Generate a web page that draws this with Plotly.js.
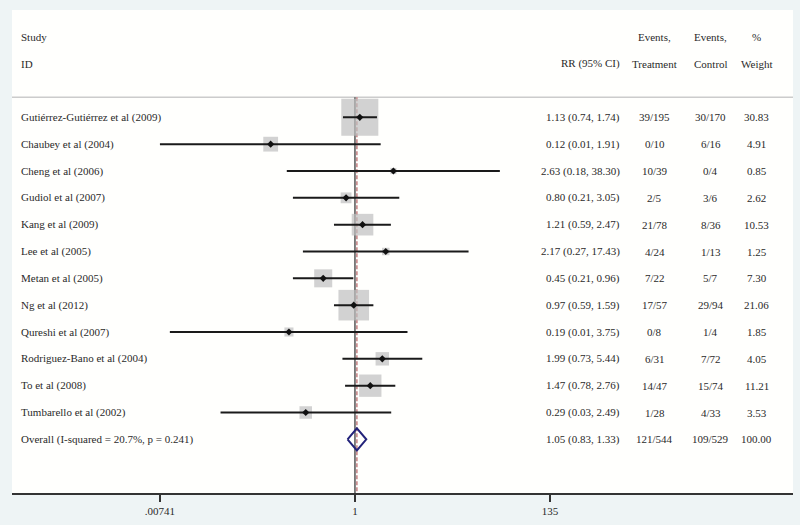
<!DOCTYPE html>
<html>
<head>
<meta charset="utf-8">
<script src="https://cdn.plot.ly/plotly-3.0.1.min.js"></script>
<style>html,body{margin:0;padding:0;background:#eef4f5;}#chart{width:800px;height:525px;}</style>
</head>
<body>
<div id="chart"></div>
<script>
// ---- data ----
const studies = ["Gutiérrez-Gutiérrez et al (2009)","Chaubey et al (2004)","Cheng et al (2006)","Gudiol et al (2007)","Kang et al (2009)","Lee et al (2005)","Metan et al (2005)","Ng et al (2012)","Qureshi et al (2007)","Rodriguez-Bano et al (2004)","To et al (2008)","Tumbarello et al (2002)"];
const rr = [1.13,0.12,2.63,0.80,1.21,2.17,0.45,0.97,0.19,1.99,1.47,0.29];
// CI limits as drawn in the picture (labels below show the rounded values)
const ciLow = [0.74,0.0074,0.18,0.21,0.59,0.27,0.21,0.59,0.0095,0.73,0.78,0.034];
const ciHigh = [1.74,1.91,38.30,3.05,2.47,17.43,0.96,1.59,3.75,5.44,2.76,2.49];
const rrLabels = ["1.13 (0.74, 1.74)","0.12 (0.01, 1.91)","2.63 (0.18, 38.30)","0.80 (0.21, 3.05)","1.21 (0.59, 2.47)","2.17 (0.27, 17.43)","0.45 (0.21, 0.96)","0.97 (0.59, 1.59)","0.19 (0.01, 3.75)","1.99 (0.73, 5.44)","1.47 (0.78, 2.76)","0.29 (0.03, 2.49)"];
const eventsTreatment = ["39/195","0/10","10/39","2/5","21/78","4/24","7/22","17/57","0/8","6/31","14/47","1/28"];
const eventsControl = ["30/170","6/16","0/4","3/6","8/36","1/13","5/7","29/94","1/4","7/72","15/74","4/33"];
const weights = [30.83,4.91,0.85,2.62,10.53,1.25,7.30,21.06,1.85,4.05,11.21,3.53];
const overallLabel = "Overall (I-squared = 20.7%, p = 0.241)";
const overallRR = 1.05, overallLow = 0.83, overallHigh = 1.33;
const overallRRLabel = "1.05 (0.83, 1.33)";
const overallEventsT = "121/544", overallEventsC = "109/529", overallWeight = 100.00;
const tickVals = [0.00741, 1, 135];
const tickText = [".00741", "1", "135"];
const headers = {study:["Study","ID"], rr:["","RR (95% CI)"], evT:["Events,","Treatment"], evC:["Events,","Control"], wt:["%","Weight"]};

// ---- layout helpers ----
const rows = studies.map((_, i) => i + 1);
const overallRow = studies.length + 1;
const FONT = "Liberation Serif";
const TXT = "#2a2a2a";
const fmt = v => v.toFixed(2);

const traces = [];
// null line and overall dashed line (drawn first, under boxes)
traces.push({x:[1,1], y:[0.25, 15], mode:"lines", line:{color:"#555555", width:1.5}, hoverinfo:"skip", showlegend:false});
traces.push({x:[overallRR, overallRR], y:[0.25, 15], mode:"lines", line:{color:"#c47f80", width:1.5, dash:"4px,2px"}, hoverinfo:"skip", showlegend:false});
// weight boxes
traces.push({x:rr, y:rows, mode:"markers", marker:{symbol:"square", color:"#bfbfbf", size:weights.map(w => 6.67*Math.sqrt(w)), line:{width:0}}, hoverinfo:"skip", showlegend:false});
// CI lines
studies.forEach((s, i) => {
  traces.push({x:[ciLow[i], ciHigh[i]], y:[rows[i], rows[i]], mode:"lines", line:{color:"#1a1a1a", width:2}, hoverinfo:"skip", showlegend:false});
});
// point estimates
traces.push({x:rr, y:rows, mode:"markers", marker:{symbol:"diamond", color:"#111111", size:5.5}, hoverinfo:"skip", showlegend:false});
// overall diamond
const dh = 0.41;
traces.push({x:[overallLow, overallRR, overallHigh, overallRR, overallLow], y:[overallRow, overallRow-dh, overallRow, overallRow+dh, overallRow], mode:"lines", line:{color:"#23237a", width:2}, hoverinfo:"skip", showlegend:false});

// annotations
const ann = [];
const col = {study:0.0088, rr:0.7812, evT:0.8233, evC:0.8950, wt:0.9539};
function addText(txt, key, y) {
  const anchor = key === "study" ? "left" : (key === "rr" ? "right" : "center");
  ann.push({text:txt, xref:"paper", yref:"y", x:col[key], y:y, xanchor:anchor, yanchor:"middle", showarrow:false, font:{family:FONT, size:11, color:TXT}});
}
["study","rr","evT","evC","wt"].forEach(k => {
  headers[k].forEach((h, j) => { if (h) addText(h, k, -2 + j); });
});
studies.forEach((s, i) => {
  addText(s, "study", rows[i]);
  addText(rrLabels[i], "rr", rows[i]);
  addText(eventsTreatment[i], "evT", rows[i]);
  addText(eventsControl[i], "evC", rows[i]);
  addText(fmt(weights[i]), "wt", rows[i]);
});
addText(overallLabel, "study", overallRow);
addText(overallRRLabel, "rr", overallRow);
addText(overallEventsT, "evT", overallRow);
addText(overallEventsC, "evC", overallRow);
addText(fmt(overallWeight), "wt", overallRow);

const layout = {
  width:800, height:525,
  margin:{l:12, r:7, t:10, b:32},
  paper_bgcolor:"#eef4f5",
  plot_bgcolor:"#fffffd",
  showlegend:false,
  font:{family:FONT, size:11, color:TXT},
  xaxis:{type:"log", range:[-3.747, 4.786], tickvals:tickVals, ticktext:tickText, ticks:"outside", ticklen:7, tickwidth:1.5, tickcolor:"#333",
         showline:true, linecolor:"#333333", linewidth:1.5, showgrid:false, zeroline:false, fixedrange:true,
         tickfont:{family:FONT, size:11, color:TXT}},
  yaxis:{range:[15, -3], visible:false, showgrid:false, zeroline:false, fixedrange:true},
  shapes:[{type:"line", xref:"paper", yref:"y", x0:0, x1:1, y0:0.25, y1:0.25, line:{color:"#cccccc", width:1.5}, layer:"below"}],
  annotations:ann
};
Plotly.newPlot("chart", traces, layout, {displayModeBar:false, staticPlot:true});
</script>
</body>
</html>
